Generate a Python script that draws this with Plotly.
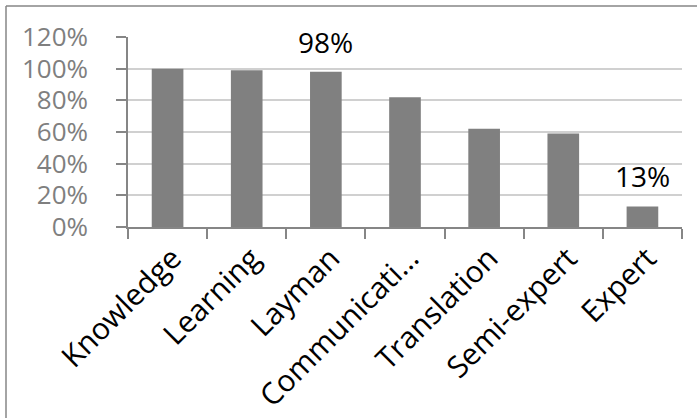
import plotly.graph_objects as go

# Share of respondents per category (percent)
categories = ["Knowledge", "Learning", "Layman", "Communicati\u2026",
              "Translation", "Semi-expert", "Expert"]
values = [100, 99, 98, 82, 62, 59, 13]
labelled = ["Layman", "Expert"]
y_ticks = [0, 20, 40, 60, 80, 100, 120]
y_tick_text = [f"{v}%" for v in y_ticks]

FONT = "Open Sans"
AXIS_GREY = "#868686"
GRID_GREY = "#d0d0d0"

fig = go.Figure(
    go.Bar(
        x=categories,
        y=values,
        marker=dict(color="#808080", line=dict(width=0)),
        hoverinfo="skip",
    )
)

# Value labels above selected bars
for cat, val in zip(categories, values):
    if cat in labelled:
        fig.add_annotation(
            x=cat, y=val, text=f"{val}%", showarrow=False,
            xanchor="center", yanchor="bottom", yshift=9,
            font=dict(family=FONT, size=28, color="#000000"),
        )

W, H = 697, 418
ML, MR, MT, MB = 128, 15, 37, 191
pw, ph = W - ML - MR, H - MT - MB


def px_x(p):
    return (p - ML) / pw


def px_y(p):
    return 1 - (p - MT) / ph


# Chart-area frame (left and top edges)
frame = dict(color=AXIS_GREY, width=1.5)
fig.add_shape(type="line", xref="paper", yref="paper",
              x0=px_x(6), x1=px_x(6), y0=px_y(6), y1=px_y(H + 5), line=frame)
fig.add_shape(type="line", xref="paper", yref="paper",
              x0=px_x(6), x1=px_x(W + 5), y0=px_y(6), y1=px_y(6), line=frame)

fig.update_layout(
    width=W, height=H,
    margin=dict(l=ML, r=MR, t=MT, b=MB, pad=0, autoexpand=False),
    paper_bgcolor="white", plot_bgcolor="white",
    bargap=0.6, showlegend=False,
    font=dict(family=FONT),
)

fig.update_xaxes(
    type="category", tickangle=-45, automargin=False,
    showline=True, linecolor=AXIS_GREY, linewidth=1.5,
    ticks="outside", tickson="boundaries", ticklen=10,
    tickcolor=AXIS_GREY, tickwidth=1.5,
    showgrid=False,
    tickfont=dict(family=FONT, size=30, color="#000000"),
    ticklabelstandoff=0,
    ticklabelshift=5,
)

fig.update_yaxes(
    range=[0, 120], tickvals=y_ticks, ticktext=y_tick_text, automargin=False,
    showline=True, linecolor=AXIS_GREY, linewidth=1.5,
    ticks="outside", ticklen=10, tickcolor=AXIS_GREY, tickwidth=1.5,
    showgrid=True, gridcolor=GRID_GREY, gridwidth=1.5,
    zeroline=False,
    tickfont=dict(family=FONT, size=26, color="#7f7f7f"),
    ticklabelstandoff=23,
)

fig.write_html("out.html")
